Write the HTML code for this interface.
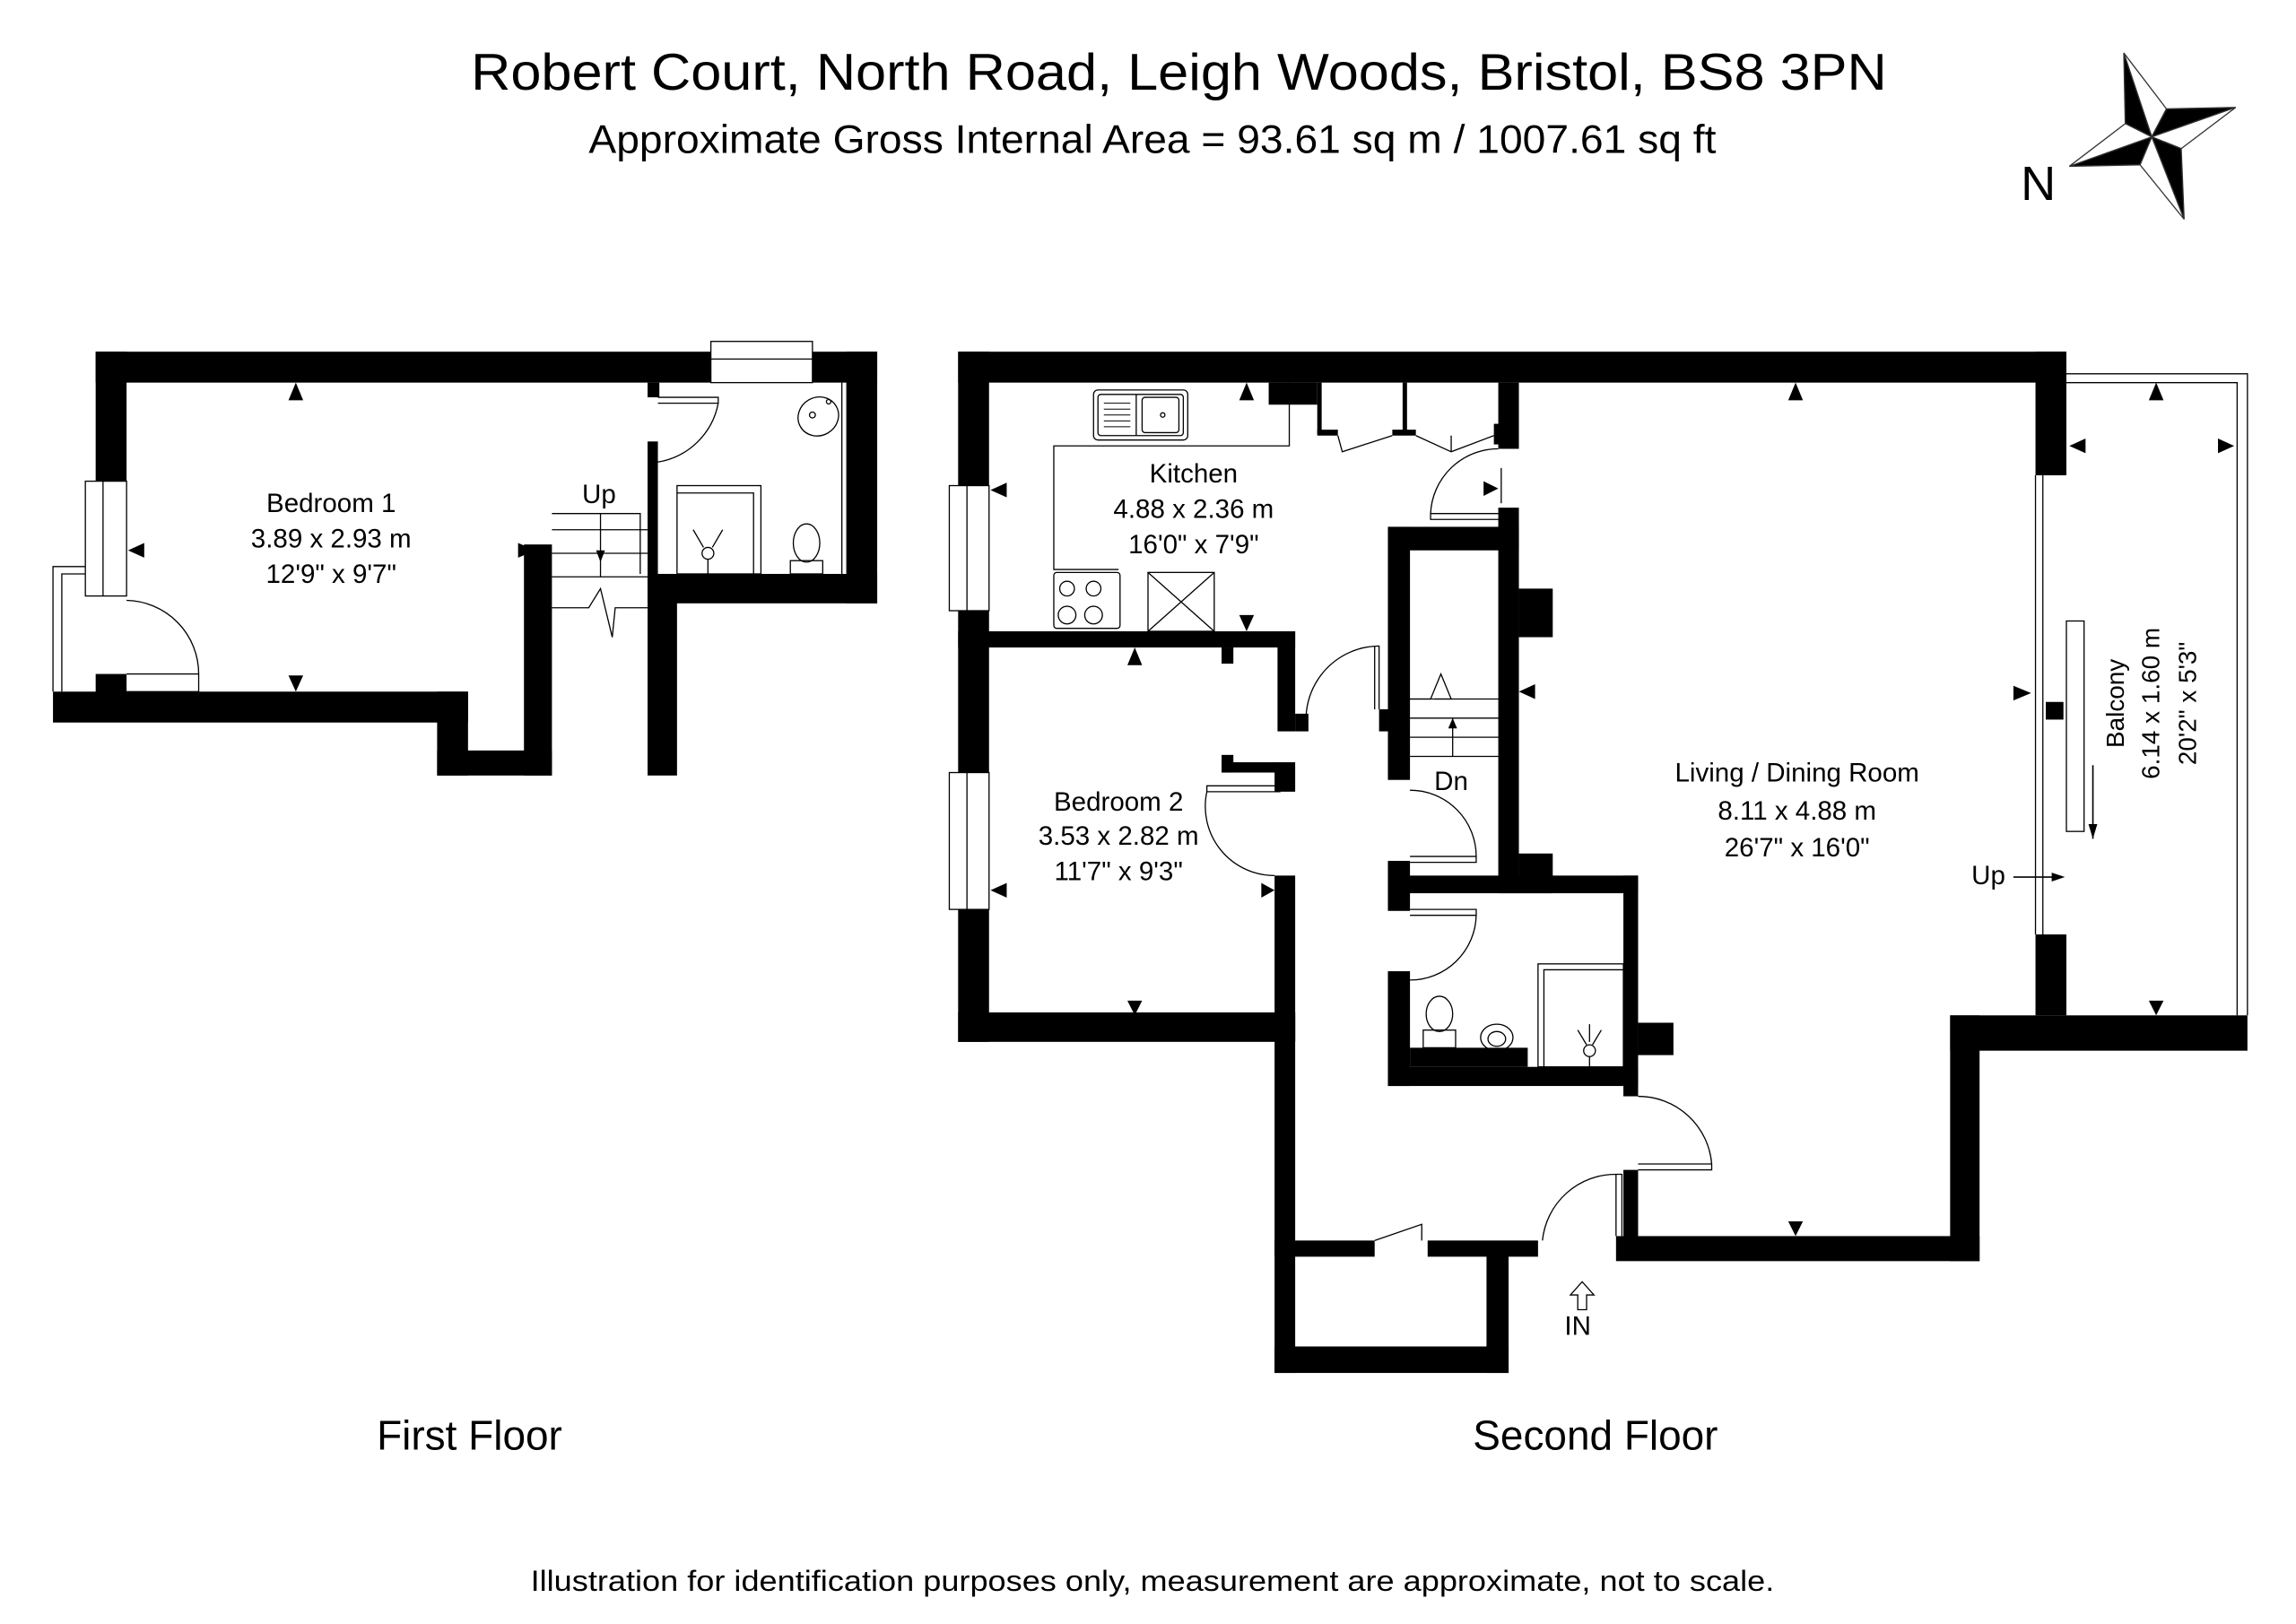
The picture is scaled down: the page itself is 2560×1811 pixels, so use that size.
<!DOCTYPE html>
<html><head><meta charset="utf-8"><style>html,body{margin:0;padding:0;background:#fff}svg{display:block}</style></head><body>
<svg width="2560" height="1811" viewBox="0 0 1560 1103.6" preserveAspectRatio="none" xmlns="http://www.w3.org/2000/svg" font-family="Liberation Sans, sans-serif">
<rect width="1560" height="1104" fill="#fff"/>
<text x="320" y="61" font-size="35" textLength="962" lengthAdjust="spacingAndGlyphs">Robert  Court, North Road, Leigh Woods, Bristol, BS8 3PN</text>
<text x="400" y="104" font-size="27" textLength="766" lengthAdjust="spacingAndGlyphs">Approximate Gross Internal Area = 93.61 sq m / 1007.61 sq ft</text>
<!-- compass -->
<g stroke="#333" stroke-width="0.8">
<polygon points="1443,36 1472,74 1462,93" fill="#fff"/>
<polygon points="1443,36 1444,84 1462,93" fill="#000"/>
<polygon points="1519,73 1472,74 1462,93" fill="#000"/>
<polygon points="1519,73 1482,101 1462,93" fill="#fff"/>
<polygon points="1484,149 1482,101 1462,93" fill="#000"/>
<polygon points="1484,149 1454,112 1462,93" fill="#fff"/>
<polygon points="1406,113 1454,112 1462,93" fill="#000"/>
<polygon points="1406,113 1444,84 1462,93" fill="#fff"/>
</g>
<text x="1373" y="136" font-size="33">N</text>

<g fill="#000">
<!-- FIRST FLOOR -->
<rect x="65" y="239" width="418" height="21"/>
<rect x="552" y="239" width="44" height="21"/>
<rect x="575" y="239" width="21" height="171"/>
<rect x="440" y="390" width="156" height="20"/>
<rect x="440" y="390" width="20" height="137"/>
<rect x="440" y="260" width="8" height="10"/>
<rect x="440" y="300" width="7" height="90"/>
<rect x="65" y="239" width="21" height="88"/>
<rect x="65" y="458" width="21" height="14"/>
<rect x="36" y="470" width="282" height="21"/>
<rect x="297" y="470" width="21" height="57"/>
<rect x="297" y="510" width="78" height="17"/>
<rect x="356" y="370" width="19" height="157"/>
</g>
<g fill="none" stroke="#000" stroke-width="0.8">
<rect x="483" y="232" width="69" height="28"/>
<line x1="483" y1="244" x2="552" y2="244"/>
<rect x="58" y="327" width="28" height="78"/>
<line x1="70" y1="327" x2="70" y2="405"/>
<polyline points="58,385 36,385 36,470"/>
<polyline points="58,390 42,390 42,470"/>
<path d="M86,470 L135,470 L135,458 M86,458 L135,458 A50,50 0 0 0 86,408"/>
<path d="M447,270 L488,270 L488,274 L447,274 M488,274 A50,50 0 0 1 447,314"/>
<!-- stairs -->
<polyline points="375,349 435,349 435,390"/>
<line x1="375" y1="360" x2="440" y2="360"/>
<line x1="375" y1="376" x2="440" y2="376"/>
<line x1="375" y1="392" x2="440" y2="392"/>
<line x1="408" y1="349" x2="408" y2="392"/>
<polyline points="375,413 400,413 408,400 416,433 418,413 440,413"/>
<!-- bath -->
<rect x="460" y="330" width="57" height="60"/>
<polyline points="460,335 512,335 512,390"/>
<line x1="572" y1="260" x2="572" y2="390"/>
<ellipse cx="556" cy="283" rx="14" ry="13" transform="rotate(-30 556 283)"/>
<circle cx="552" cy="282" r="2"/><circle cx="563" cy="273" r="1.5"/>
<ellipse cx="548" cy="369" rx="9" ry="13"/>
<rect x="537" y="381" width="22" height="9"/>
<circle cx="481" cy="376" r="4"/>
<line x1="481" y1="380" x2="481" y2="390"/>
<path d="M471,360 L478,372 M491,360 L484,372"/>
</g>
<g fill="#000">
<polygon points="196,272 206,272 201,260"/>
<polygon points="196,459 206,459 201,470"/>
<polygon points="98,369 98,379 87,374"/>
<polygon points="352,369 352,379 364,374"/>
<polygon points="405,374 411,374 408,382"/>
</g>
<text x="225" y="348" font-size="18" text-anchor="middle">Bedroom 1</text>
<text x="225" y="372" font-size="18" text-anchor="middle">3.89 x 2.93 m</text>
<text x="225" y="396" font-size="18" text-anchor="middle">12'9" x 9'7"</text>
<text x="407" y="342" font-size="18" text-anchor="middle">Up</text>
<text x="319" y="985" font-size="28" text-anchor="middle">First Floor</text>

<!-- SECOND FLOOR -->
<g fill="#000">
<rect x="651" y="239" width="753" height="21"/>
<rect x="651" y="239" width="21" height="91"/>
<rect x="651" y="415" width="21" height="110"/>
<rect x="651" y="618" width="21" height="90"/>
<rect x="651" y="688" width="229" height="20"/>
<rect x="651" y="429" width="229" height="11"/>
<rect x="868" y="429" width="12" height="68"/>
<rect x="880" y="485" width="9" height="12"/>
<rect x="830" y="440" width="8" height="11"/>
<rect x="830" y="513" width="8" height="12"/>
<rect x="830" y="518" width="40" height="7"/>
<rect x="866" y="518" width="14" height="20"/>
<rect x="866" y="595" width="14" height="113"/>
<rect x="866" y="688" width="14" height="245"/>
<rect x="866" y="915" width="159" height="18"/>
<rect x="1010" y="845" width="15" height="88"/>
<rect x="866" y="843" width="68" height="11"/>
<rect x="970" y="843" width="75" height="11"/>
<rect x="862" y="260" width="33" height="15"/>
<rect x="895" y="260" width="3" height="35"/>
<rect x="895" y="292" width="14" height="4"/>
<rect x="953" y="260" width="3" height="35"/>
<rect x="946" y="292" width="16" height="4"/>
<rect x="1018" y="260" width="14" height="45"/>
<rect x="1015" y="288" width="5" height="14"/>
<!-- stair block -->
<rect x="943" y="358" width="89" height="16"/>
<rect x="943" y="358" width="15" height="172"/>
<rect x="1018" y="345" width="14" height="262"/>
<rect x="1032" y="400" width="23" height="33"/>
<rect x="937" y="482" width="6" height="15"/>
<rect x="943" y="585" width="15" height="34"/>
<rect x="943" y="595" width="170" height="12"/>
<rect x="1032" y="580" width="23" height="27"/>
<rect x="943" y="660" width="15" height="78"/>
<rect x="943" y="725" width="170" height="13"/>
<rect x="958" y="712" width="80" height="13"/>
<rect x="1103" y="595" width="10" height="150"/>
<rect x="1113" y="695" width="24" height="22"/>
<!-- living -->
<rect x="1383" y="239" width="21" height="84"/>
<rect x="1383" y="635" width="21" height="55"/>
<rect x="1325" y="690" width="202" height="24"/>
<rect x="1325" y="690" width="20" height="167"/>
<rect x="1098" y="840" width="247" height="17"/>
<rect x="1103" y="795" width="10" height="50"/>
<rect x="1390" y="477" width="12" height="12"/>
</g>
<g fill="none" stroke="#000" stroke-width="0.8">
<!-- windows -->
<rect x="645" y="330" width="27" height="85"/><line x1="657" y1="330" x2="657" y2="415"/>
<rect x="645" y="525" width="27" height="93"/><line x1="657" y1="525" x2="657" y2="618"/>
<!-- kitchen -->
<polyline points="876,260 876,303 716,303 716,387 760,387"/>
<rect x="743" y="265" width="64" height="34" rx="3"/>
<rect x="746" y="268" width="58" height="28" rx="2"/>
<line x1="772" y1="268" x2="772" y2="296"/>
<rect x="776" y="270" width="25" height="24" rx="2"/>
<circle cx="790" cy="282" r="1.5"/>
<g stroke-width="0.6"><line x1="750" y1="274" x2="768" y2="274"/><line x1="750" y1="278" x2="768" y2="278"/><line x1="750" y1="282" x2="768" y2="282"/><line x1="750" y1="286" x2="768" y2="286"/><line x1="750" y1="290" x2="768" y2="290"/></g>
<rect x="716" y="389" width="45" height="38" rx="2"/>
<circle cx="725" cy="400" r="5"/><circle cx="743" cy="400" r="5"/><circle cx="725" cy="418" r="6"/><circle cx="743" cy="418" r="6"/>
<rect x="780" y="389" width="45" height="40"/>
<line x1="780" y1="389" x2="825" y2="429"/><line x1="825" y1="389" x2="780" y2="429"/>
<!-- cupboard doors -->
<polyline points="909,296 912,307 946,296"/>
<polyline points="962,296 986,307 1015,296"/>
<line x1="986" y1="296" x2="986" y2="307"/>
<!-- living door -->
<path d="M1018,353 L972,353 L972,349 L1018,349 M1018,305 A46,46 0 0 0 972,349"/>
<line x1="1020" y1="318" x2="1020" y2="342"/>
<!-- hall door to stair -->
<path d="M888,497 A50,50 0 0 1 937,439 L937,482 M934,439 L934,482"/>
<!-- bedroom2 door -->
<path d="M870,538 L820,538 L820,534 L870,534 M820,538 A47,47 0 0 0 866,595"/>
<!-- stair door -->
<path d="M958,586 L1003,586 L1003,582 L958,582 M1003,582 A45,45 0 0 0 958,537"/>
<!-- stairs -->
<polyline points="958,475 1018,475"/>
<line x1="958" y1="488" x2="1018" y2="488"/>
<line x1="958" y1="501" x2="1018" y2="501"/>
<line x1="958" y1="514" x2="1018" y2="514"/>
<line x1="987" y1="488" x2="987" y2="514"/>
<polyline points="958,475 972,475 979,458 986,475 975,475"/>
<!-- wc door -->
<path d="M958,618 L1003,618 L1003,622 L958,622 M1003,622 A45,45 0 0 1 958,666"/>
<!-- wc fixtures -->
<rect x="1045" y="655" width="58" height="70"/><polyline points="1049,725 1049,659 1103,659"/>
<ellipse cx="978" cy="689" rx="9" ry="12"/><rect x="967" y="700" width="22" height="12"/>
<ellipse cx="1017" cy="705" rx="11" ry="9"/><ellipse cx="1017" cy="706" rx="6" ry="5"/>
<circle cx="1080" cy="714" r="4"/><line x1="1080" y1="718" x2="1080" y2="725"/>
<path d="M1072,700 L1078,710 M1088,700 L1082,710 M1080,696 L1080,708"/>
<!-- entrance doors -->
<path d="M1113,795 L1163,795 L1163,791 L1113,791 M1163,791 A50,50 0 0 0 1113,745"/>
<path d="M1098,840 L1098,798 L1102,798 L1102,840 M1098,798 A50,50 0 0 0 1048,843"/>
<polyline points="934,843 966,832 966,843"/>
<!-- IN arrow -->
<polygon points="1072,890 1072,880 1067,880 1075,871 1083,880 1078,880 1078,890"/>
<!-- balcony -->
<polyline points="1404,254 1527,254 1527,690"/>
<polyline points="1404,260 1520,260 1520,690"/>
<line x1="1383" y1="323" x2="1383" y2="635"/>
<line x1="1388" y1="323" x2="1388" y2="635"/>
<rect x="1404" y="422" width="12" height="143"/>
</g>
<g fill="#000">
<line x1="1422" y1="520" x2="1422" y2="570" stroke="#000" stroke-width="1"/>
<polygon points="1419,560 1425,560 1422,570"/>
<line x1="1368" y1="596" x2="1395" y2="596" stroke="#000" stroke-width="1"/>
<polygon points="1394,593 1394,599 1403,596"/>
<polygon points="842,272 852,272 847,260"/>
<polygon points="1215,272 1225,272 1220,260"/>
<polygon points="1460,272 1470,272 1465,260"/>
<polygon points="1460,680 1470,680 1465,690"/>
<polygon points="1215,830 1225,830 1220,840"/>
<polygon points="766,452 776,452 771,440"/>
<polygon points="766,680 776,680 771,690"/>
<polygon points="842,418 852,418 847,429"/>
<polygon points="684,328 684,338 673,333"/>
<polygon points="684,600 684,610 673,605"/>
<polygon points="857,600 857,610 866,605"/>
<polygon points="1008,327 1008,337 1018,332"/>
<polygon points="1043,465 1043,475 1032,470"/>
<polygon points="1417,298 1417,308 1406,303"/>
<polygon points="1507,298 1507,308 1518,303"/>
<polygon points="1368,466 1368,476 1380,471"/>
<polygon points="984,495 990,495 987,488"/>
</g>
<g font-size="18" text-anchor="middle">
<text x="811" y="328">Kitchen</text>
<text x="811" y="352">4.88 x 2.36 m</text>
<text x="811" y="376">16'0" x 7'9"</text>
<text x="760" y="551">Bedroom 2</text>
<text x="760" y="574">3.53 x 2.82 m</text>
<text x="760" y="598">11'7" x 9'3"</text>
<text x="1221" y="531">Living / Dining Room</text>
<text x="1221" y="557">8.11 x 4.88 m</text>
<text x="1221" y="582">26'7" x 16'0"</text>
<text x="986" y="537">Dn</text>
<text x="1351" y="601">Up</text>
<text x="1072" y="907">IN</text>
</g>
<g font-size="17" text-anchor="middle">
<text transform="translate(1443 478) rotate(-90)">Balcony</text>
<text transform="translate(1467 478) rotate(-90)">6.14 x 1.60 m</text>
<text transform="translate(1492 478) rotate(-90)">20'2" x 5'3"</text>
</g>
<text x="1084" y="985" font-size="28" text-anchor="middle">Second Floor</text>
<text x="783" y="1081" font-size="20" text-anchor="middle" textLength="845" lengthAdjust="spacingAndGlyphs">Illustration for identification purposes only, measurement are approximate, not to scale.</text>
</svg>
</body></html>
